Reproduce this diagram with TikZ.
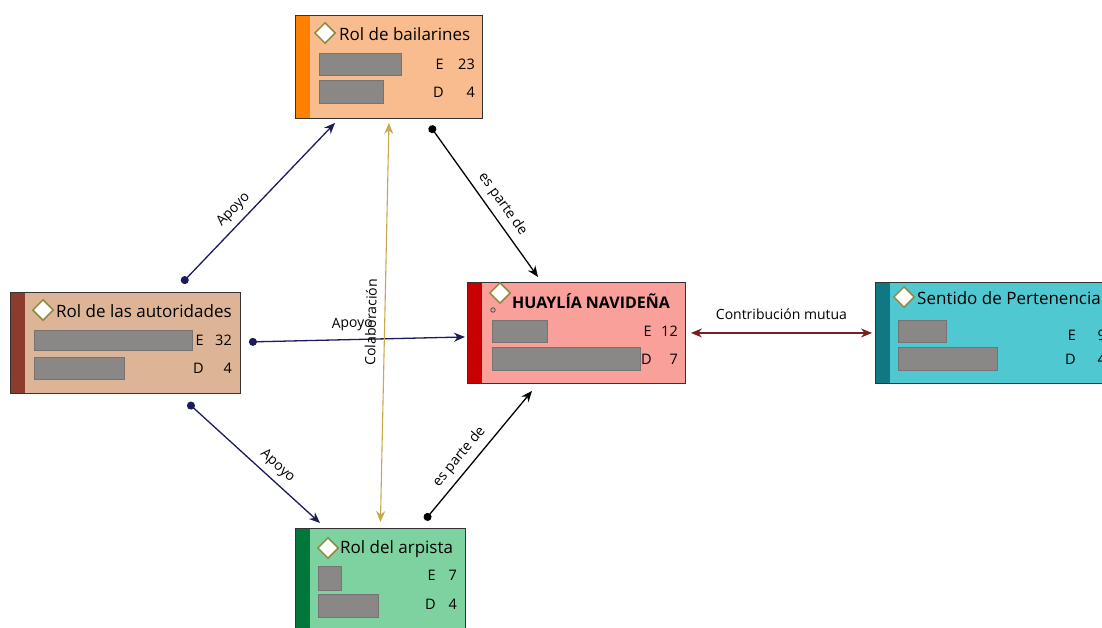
\documentclass[tikz,border=0pt]{standalone}
\usepackage{fontspec}
\setmainfont{Open Sans}
\usetikzlibrary{arrows.meta,shapes.geometric,positioning}

\definecolor{bailFill}{HTML}{F9BC8F}
\definecolor{bailEdge}{HTML}{FF7F00}
\definecolor{autoFill}{HTML}{DEB496}
\definecolor{autoEdge}{HTML}{8C3C2D}
\definecolor{huaFill}{HTML}{FAA09B}
\definecolor{huaEdge}{HTML}{C80000}
\definecolor{sentFill}{HTML}{50C8D2}
\definecolor{sentEdge}{HTML}{0F7882}
\definecolor{arpFill}{HTML}{7DD2A0}
\definecolor{arpEdge}{HTML}{00783C}
\definecolor{barGray}{HTML}{8A8787}
\definecolor{navyLink}{HTML}{1C1C5C}
\definecolor{goldLink}{HTML}{C9A84E}
\definecolor{brownLink}{HTML}{7A1E1E}

\tikzset{
  box/.style={draw=black!80, line width=0.9pt, rectangle, anchor=north west, inner sep=0pt,
    path picture={\fill[#1] (path picture bounding box.north west) rectangle ([xshift=15pt]path picture bounding box.south west);}},
  icon/.style={diamond, draw=olive!55!gray, line width=1.5pt, fill=white, minimum size=21pt, inner sep=0pt},
  title/.style={anchor=west, inner sep=0pt, font=\fontsize{17}{19}\selectfont},
  count/.style={anchor=east, inner sep=0pt, font=\fontsize{14.5}{16}\selectfont},
  bar/.style={fill=barGray, draw=barGray!85!black, line width=0.6pt},
  lbl/.style={font=\fontsize{14}{16}\selectfont, sloped, above=6pt, inner sep=0pt, text=black},
  link/.style={line width=1.3pt, {Circle[length=8pt]}-{Stealth[length=11pt,width=9pt]}},
}

\begin{document}
\begin{tikzpicture}[x=1pt,y=-1pt]
\useasboundingbox (0,0) rectangle (1102,628);
\clip (0,0) rectangle (1102,628);
\fill[white] (0,0) rectangle (1102,628);

% Rol de bailarines
\node[box=bailEdge, fill=bailFill, minimum width=187pt, minimum height=103pt] (bail) at (295,15) {};
\node[icon] (bailI) at (325,33) {};
\node[title] (bailT) at (339,34) {Rol de bailarines};
\fill[bar] (319,53) rectangle (401,75);
\fill[bar] (319,80) rectangle (383,103);
\node[count] (bailE) at (475,64) {E\makebox[31pt][r]{23}};
\node[count] (bailD) at (475,92) {D\makebox[31pt][r]{4}};

% Rol de las autoridades
\node[box=autoEdge, fill=autoFill, minimum width=230pt, minimum height=101pt] (auto) at (10,292) {};
\node[icon] (autoI) at (43,310) {};
\node[title] (autoT) at (56,311) {Rol de las autoridades};
\fill[bar] (34,330) rectangle (192,350);
\fill[bar] (34,357) rectangle (124,379);
\node[count] (autoE) at (232,340) {E\makebox[28pt][r]{32}};
\node[count] (autoD) at (232,368) {D\makebox[28pt][r]{4}};

% HUAYLIA NAVIDENA
\node[box=huaEdge, fill=huaFill, minimum width=218pt, minimum height=101pt] (hua) at (467,282) {};
\node[icon] (huaI) at (500,293) {};
\draw[black!70, line width=0.8pt] (493,310) circle (2.2pt);
\node[title, font=\fontsize{16}{18}\selectfont\bfseries] (huaT) at (512,301) {HUAYLÍA NAVIDEÑA};
\fill[bar] (492,320) rectangle (547,342);
\fill[bar] (492,347) rectangle (640,370);
\node[count] (huaE) at (678,331) {E\makebox[26pt][r]{12}};
\node[count] (huaD) at (678,359) {D\makebox[26pt][r]{7}};

% Sentido de Pertenencia
\node[box=sentEdge, fill=sentFill, minimum width=245pt, minimum height=101pt] (sent) at (875,282) {};
\node[icon] (sentI) at (904,297) {};
\node[title] (sentT) at (917,298) {Sentido de Pertenencia};
\fill[bar] (898,320) rectangle (946,342);
\fill[bar] (898,347) rectangle (997,370);
\node[count] (sentE) at (1106,335) {E\makebox[30pt][r]{9}};
\node[count] (sentD) at (1106,359) {D\makebox[30pt][r]{4}};

% Rol del arpista
\node[box=arpEdge, fill=arpFill, minimum width=170pt, minimum height=112pt] (arp) at (295,528) {};
\node[icon] (arpI) at (328,548) {};
\node[title] (arpT) at (340,549) {Rol del arpista};
\fill[bar] (318,566) rectangle (341,590);
\fill[bar] (318,594) rectangle (378,617);
\node[count] (arpE) at (457,575) {E\makebox[21pt][r]{7}};
\node[count] (arpD) at (457,604) {D\makebox[21pt][r]{4}};

% relaciones
\draw[link, navyLink] ([xshift=172pt,yshift=9pt]auto.north west) -- node[lbl, pos=0.40] {Apoyo} ([xshift=40pt,yshift=-4pt]bail.south west);
\draw[link, black] ([xshift=135pt,yshift=-7pt]bail.south west) -- node[lbl, pos=0.57] {es parte de} ([xshift=71pt,yshift=5pt]hua.north west);
\draw[link, navyLink] ([xshift=8pt,yshift=1pt]auto.east) -- node[lbl, pos=0.48, above=8pt] {Apoyo} ([xshift=-2pt,yshift=-4pt]hua.west);
\draw[goldLink, line width=1.1pt, {Stealth[length=11pt,width=9pt]}-{Stealth[length=11pt,width=9pt]}] ([yshift=-4pt]bail.south) -- node[lbl, pos=0.5, above=8pt] {Colaboración} ([yshift=6pt]arp.north);
\draw[link, navyLink] ([xshift=178pt,yshift=-9pt]auto.south west) -- node[lbl, pos=0.61] {Apoyo} ([xshift=25pt,yshift=5pt]arp.north west);
\draw[link, black] ([xshift=130pt,yshift=8pt]arp.north west) -- node[lbl, pos=0.42] {es parte de} ([xshift=65pt,yshift=-7pt]hua.south west);
\draw[brownLink, line width=1.3pt, {Stealth[length=11pt,width=9pt]}-{Stealth[length=11pt,width=9pt]}] ([xshift=5pt]hua.east) -- node[lbl, above=13pt] {Contribución mutua} ([xshift=-3pt]sent.west);
\end{tikzpicture}
\end{document}
